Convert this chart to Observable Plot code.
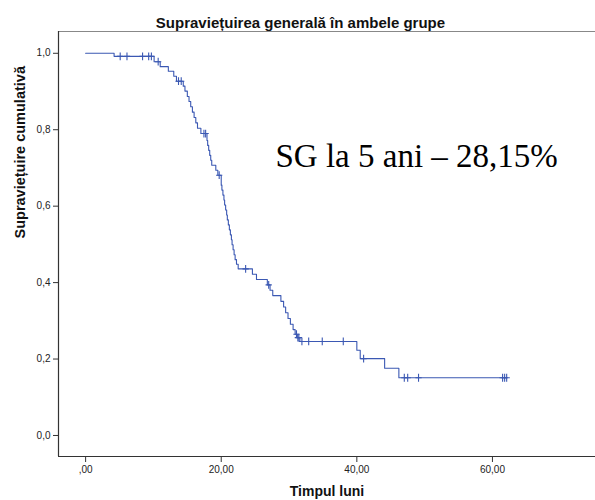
<!DOCTYPE html>
<html>
<head>
<meta charset="utf-8">
<script src="https://cdn.jsdelivr.net/npm/d3@7"></script>
<script src="https://cdn.jsdelivr.net/npm/@observablehq/plot@0.6"></script>
<style>
  html, body { margin: 0; padding: 0; background: #fff; }
  #chart { width: 595px; height: 500px; }
</style>
</head>
<body>
<div id="chart"></div>
<script>
// ---- Data ----
const titleText = "Supraviețuirea generală în ambele grupe";
const xLabelText = "Timpul luni";
const yLabelText = "Supraviețuire cumulativă";
const annotationText = "SG la 5 ani – 28,15%";

// Kaplan–Meier step points: time (months) and cumulative survival after the drop
const eventTimes = [0, 4.2, 10.1, 11.0, 12.2, 13.0, 13.4, 14.4, 14.65, 15.0, 15.25, 15.5, 15.75, 16.0, 16.25, 16.5, 17.0,
  17.9, 18.0, 18.15, 18.3, 18.45, 18.6, 19.2, 19.5,
  20.0, 20.1, 20.25, 20.4, 20.5, 20.65, 20.8, 20.9, 21.05, 21.2, 21.35, 21.5, 21.6, 21.75, 21.9, 22.05, 22.25, 22.5,
  24.6, 25.2, 26.8, 27.2, 27.6, 28.8, 29.2, 29.5, 29.85, 30.2, 30.6, 30.9, 31.2, 31.6,
  40.0, 40.5, 44.1, 46.2];
const survival = [1.0, 0.992, 0.978, 0.965, 0.953, 0.940, 0.927, 0.914, 0.901, 0.887, 0.874, 0.860, 0.846, 0.832, 0.818, 0.804, 0.790,
  0.772, 0.759, 0.746, 0.733, 0.720, 0.707, 0.694, 0.681,
  0.655, 0.642, 0.629, 0.616, 0.603, 0.590, 0.577, 0.564, 0.551, 0.538, 0.525, 0.512, 0.499, 0.486, 0.473, 0.460, 0.448, 0.436,
  0.422, 0.408, 0.394, 0.380, 0.366, 0.351, 0.336, 0.321, 0.306, 0.291, 0.277, 0.265, 0.256, 0.246,
  0.223, 0.201, 0.176, 0.151];

// Censored observations (times)
const censorTimes = [5.1, 6.1, 8.4, 9.3, 9.7, 10.7, 13.7, 14.1, 17.45, 17.7, 19.7, 23.6, 27.0,
  31.1, 31.3, 31.45, 31.9, 32.9, 34.9, 38.0, 41.0, 47.0, 47.5, 49.1, 61.5, 61.8, 62.1];

const xTicks = [0, 20, 40, 60];
const xTickLabels = [",00", "20,00", "40,00", "60,00"];
const yTicks = [0, 0.2, 0.4, 0.6, 0.8, 1.0];
const yTickLabels = ["0,0", "0,2", "0,4", "0,6", "0,8", "1,0"];

// ---- Build tables ----
function survAt(t) {
  let s = survival[0];
  for (let i = 0; i < eventTimes.length; i++) if (eventTimes[i] <= t) s = survival[i];
  return s;
}
const lastTime = Math.max(...censorTimes);
const curve = eventTimes.map((t, i) => ({t, s: survival[i]}));
curve.push({t: lastTime, s: survAt(lastTime)});
const censors = censorTimes.map(t => ({t, s: survAt(t)}));

const plusSymbol = {
  draw(ctx, size) {
    const h = Math.sqrt(size) / 2;
    ctx.moveTo(-h * 0.8, 0); ctx.lineTo(h * 0.8, 0);
    ctx.moveTo(0, -h); ctx.lineTo(0, h);
  }
};

const xMin = -4, xMax = 75.2, yMin = -0.055, yMax = 1.057;
const lineColor = "#3b58b3";

const chart = Plot.plot({
  width: 595,
  height: 500,
  marginLeft: 58,
  marginRight: 0,
  marginTop: 31,
  marginBottom: 44,
  style: {fontFamily: "'Liberation Sans', Arial, sans-serif", fontSize: "10px", color: "#222", background: "#fff"},
  x: {domain: [xMin, xMax]},
  y: {domain: [yMin, yMax]},
  marks: [
    Plot.axisX({ticks: xTicks, tickFormat: d => xTickLabels[xTicks.indexOf(d)], tickSize: 6, tickPadding: 3, label: null, stroke: "#333"}),
    Plot.axisY({ticks: yTicks, tickFormat: d => yTickLabels[yTicks.indexOf(d)], tickSize: 5, tickPadding: 3, label: null, stroke: "#333"}),
    Plot.ruleY([yMax], {stroke: "#888", strokeWidth: 1}),
    Plot.ruleY([yMin], {stroke: "#333", strokeWidth: 1.2}),
    Plot.ruleX([xMin], {stroke: "#333", strokeWidth: 1.2}),
    Plot.line(curve, {x: "t", y: "s", curve: "step-after", stroke: lineColor, strokeWidth: 1.1}),
    Plot.dot(censors, {x: "t", y: "s", symbol: plusSymbol, r: 4.4, stroke: lineColor, fill: "none", strokeWidth: 1.1}),
    Plot.text([titleText], {text: d => d, frameAnchor: "top-left", dx: 242, dy: -14, textAnchor: "middle", fontSize: 15, fontWeight: "bold", fill: "#111"}),
    Plot.text([xLabelText], {text: d => d, frameAnchor: "bottom", dy: 39, fontSize: 14, fontWeight: "bold", fill: "#111"}),
    Plot.text([yLabelText], {text: d => d, frameAnchor: "left", dx: -38, dy: -5.5, rotate: -90, fontSize: 14.5, fontWeight: "bold", fill: "#111"}),
    Plot.text([annotationText], {text: d => d, frameAnchor: "top-left", dx: 217, dy: 112, textAnchor: "start", fontSize: 33, fontFamily: "'Liberation Serif', 'Times New Roman', serif", fill: "#000"})
  ]
});
document.getElementById("chart").appendChild(chart);
</script>
</body>
</html>
